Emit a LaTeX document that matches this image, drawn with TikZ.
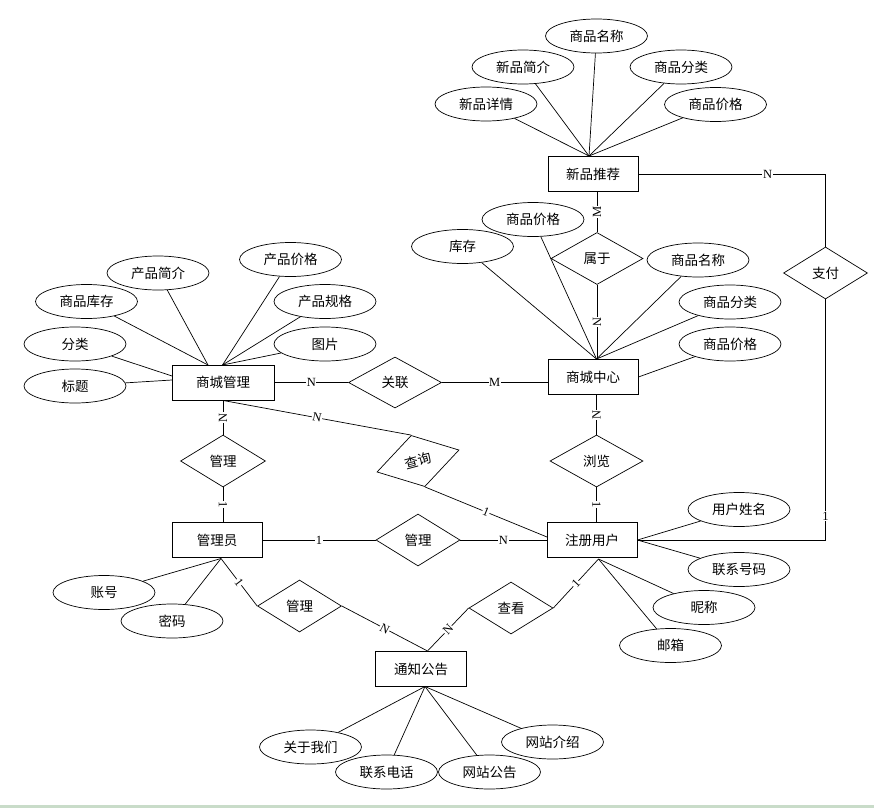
\documentclass[tikz,border=0pt]{standalone}
\usepackage{fontspec}
\setmainfont{Liberation Serif}
\newfontfamily\cjk{Noto Sans CJK SC}
\usetikzlibrary{shapes.geometric,calc}
\definecolor{stripc}{HTML}{C9DCC9}
\begin{document}
\begin{tikzpicture}[x=1pt,y=-1pt,
  cn/.style={font=\cjk\fontsize{13.5}{15}\selectfont},
  ent/.style={cn, draw, line width=0.9pt, minimum width=90pt, minimum height=35pt, inner sep=0pt},
  rel/.style={cn, draw, diamond, line width=0.7pt, minimum width=84pt, minimum height=52pt, inner sep=0pt},
  attr/.style={cn, draw, ellipse, line width=0.7pt, minimum width=102pt, minimum height=34pt, inner sep=0pt},
  ln/.style={line width=0.7pt},
  labu/.style={fill=white, inner sep=0.6pt, font=\fontsize{12.5}{13}\selectfont},
  lab/.style={labu, sloped}]
\useasboundingbox (0,0) rectangle (874,808);
\fill[stripc] (0,804.5) rectangle (874,808);

% entities
\node[ent] (xp) at (593,174) {新品推荐};
\node[ent] (sc) at (593,377) {商城中心};
\node[ent, minimum width=102pt] (sg) at (223,382.5) {商城管理};
\node[ent] (gly) at (217,540) {管理员};
\node[ent] (reg) at (592,540) {注册用户};
\node[ent, minimum width=91pt] (tz) at (421,669) {通知公告};

% relationships
\node[rel, minimum width=92pt] (shuyu) at (597,258.5) {属于};
\node[rel, minimum width=93pt, minimum height=51pt] (gll) at (395,382.5) {关联};
\node[rel, minimum width=85pt] (gl1) at (223,461) {管理};
\node[rel, minimum width=85pt, minimum height=53pt, rotate=15] (cx) at (418,461) {查询};
\node[rel, minimum width=93pt] (ll) at (596.5,461) {浏览};
\node[rel] (gl2) at (418,540) {管理};
\node[rel] (gl3) at (299.5,606) {管理};
\node[rel] (ck) at (511,608) {查看};
\node[rel] (zf) at (825.5,273) {支付};

% attributes of 新品推荐
\node[attr] (a1) at (596.5,36) {商品名称};
\node[attr] (a2) at (523,67) {新品简介};
\node[attr] (a3) at (681,67) {商品分类};
\node[attr] (a4) at (486,104) {新品详情};
\node[attr] (a5) at (715.5,104.5) {商品价格};
% attributes of 商城中心
\node[attr] (b1) at (533,219.5) {商品价格};
\node[attr] (b2) at (462.5,246.5) {库存};
\node[attr] (b3) at (698,260) {商品名称};
\node[attr] (b4) at (730,302) {商品分类};
\node[attr] (b5) at (730,344) {商品价格};
% attributes of 商城管理
\node[attr] (c1) at (158,273) {产品简介};
\node[attr] (c2) at (290.5,259.5) {产品价格};
\node[attr] (c3) at (86.5,301.5) {商品库存};
\node[attr] (c4) at (325,301.5) {产品规格};
\node[attr] (c5) at (75,344) {分类};
\node[attr] (c6) at (325,344) {图片};
\node[attr] (c7) at (75,386) {标题};
% attributes of 注册用户
\node[attr] (d1) at (739,509.5) {用户姓名};
\node[attr] (d2) at (739,569.5) {联系号码};
\node[attr] (d3) at (704,607.5) {昵称};
\node[attr] (d4) at (670.5,645.5) {邮箱};
% attributes of 管理员
\node[attr] (e1) at (104,592.5) {账号};
\node[attr] (e2) at (172,621) {密码};
% attributes of 通知公告
\node[attr] (f1) at (310.5,747) {关于我们};
\node[attr] (f2) at (386.5,772) {联系电话};
\node[attr] (f3) at (489.5,772) {网站公告};
\node[attr] (f4) at (552.5,742) {网站介绍};

% meeting points on entity borders
\coordinate (xpT) at (589,156);
\coordinate (scT) at (596.5,359);
\coordinate (sgA) at (208,365);
\coordinate (sgB) at (222.5,365);
\coordinate (sgL1) at (172,376);
\coordinate (sgL2) at (172,380);
\coordinate (regB) at (598.5,559);
\coordinate (glyB) at (221,558.5);
\coordinate (tzB) at (425,686.5);
\coordinate (tzT) at (427.5,651);
\coordinate (regW) at (547,537);

% attribute lines
\foreach \a in {a1,a2,a3,a4,a5} \draw[ln] (\a) -- (xpT);
\foreach \a in {b1,b2,b3,b4} \draw[ln] (\a) -- (scT);
\draw[ln] (b5) -- (sc.east);
\foreach \a in {c1,c3} \draw[ln] (\a) -- (sgA);
\foreach \a in {c2,c4,c6} \draw[ln] (\a) -- (sgB);
\draw[ln] (c5) -- (sgL1);
\draw[ln] (c7) -- (sgL2);
\foreach \a in {d1,d2} \draw[ln] (\a) -- (reg.east);
\foreach \a in {d3,d4} \draw[ln] (\a) -- (regB);
\foreach \a in {e1,e2} \draw[ln] (\a) -- (glyB);
\foreach \a in {f1,f2,f3,f4} \draw[ln] (\a) -- (tzB);

% relationship lines
\draw[ln] (shuyu.north) -- node[lab]{M} (shuyu.north |- xp.south);
\draw[ln] (shuyu.south) -- node[lab]{N} (shuyu.south |- sc.north);
\draw[ln] (sg.east) -- node[lab]{N} (gll.west);
\draw[ln] (gll.east) -- node[lab]{M} (gll.east -| sc.west);
\draw[ln] (gl1.north) -- node[lab]{N} (gl1.north |- sg.south);
\draw[ln] (gl1.south) -- node[lab]{1} (gl1.south |- gly.north);
\draw[ln] (sg.south) -- node[lab]{N} (cx.north);
\draw[ln] (cx.south) -- node[lab]{1} (regW);
\draw[ln] (ll.north) -- node[lab]{N} (ll.north |- sc.south);
\draw[ln] (ll.south) -- node[lab]{1} (ll.south |- reg.north);
\draw[ln] (gly.east) -- node[lab]{1} (gl2.west);
\draw[ln] (gl2.east) -- node[lab]{N} (reg.west);
\draw[ln] (glyB) -- node[lab]{1} (gl3.west);
\draw[ln] (gl3.east) -- node[lab]{N} (tzT);
\draw[ln] (ck.west) -- node[lab]{N} (tzT);
\draw[ln] (ck.east) -- node[lab]{1} (regB);
\draw[ln] (xp.east) -- node[labu, pos=0.69]{N} (xp.east -| zf.north) -- (zf.north);
\draw[ln] (zf.south) -- node[labu, pos=0.9]{1} (zf.south |- reg.east) -- (reg.east);
\end{tikzpicture}
\end{document}
